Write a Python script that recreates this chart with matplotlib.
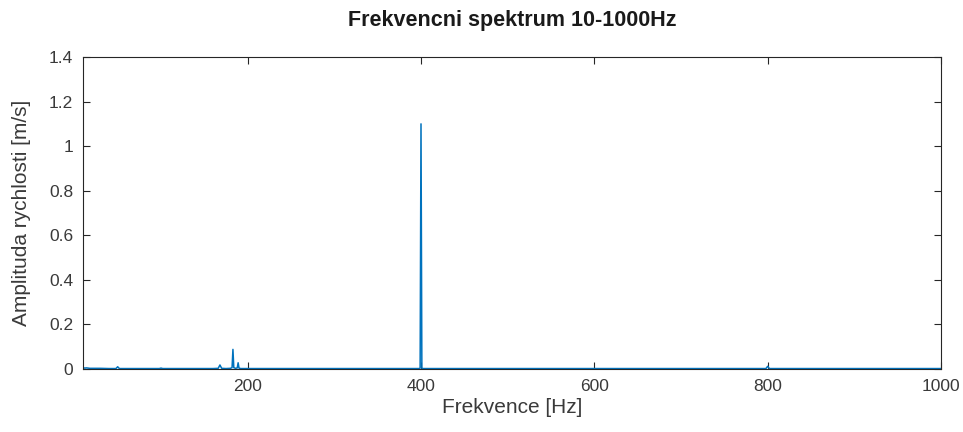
import matplotlib
matplotlib.use("Agg")
import matplotlib.pyplot as plt

# Spectrum samples (frequency in Hz, amplitude in m/s)
freq = [10, 12, 14, 16, 18, 20, 30, 40, 48, 50, 52, 60, 80, 98, 100, 102, 120, 140,
        160, 166, 168, 170, 175, 180, 182, 183, 184, 186, 188, 189, 190, 192, 200,
        250, 300, 350, 398, 399, 400, 401, 402, 450, 500, 550, 600, 650, 700, 750,
        798, 800, 802, 850, 900, 950, 1000]
amp = [0.006, 0.004, 0.005, 0.004, 0.003, 0.003, 0.003, 0.002, 0.002, 0.010, 0.002, 0.002,
       0.002, 0.002, 0.004, 0.002, 0.002, 0.002,
       0.002, 0.003, 0.018, 0.003, 0.002, 0.003, 0.006, 0.088, 0.006, 0.003, 0.005, 0.028, 0.004, 0.002, 0.002,
       0.002, 0.002, 0.002, 0.002, 0.004, 1.10, 0.004, 0.002, 0.002, 0.002, 0.002, 0.002, 0.002, 0.002, 0.002,
       0.002, 0.012, 0.002, 0.002, 0.002, 0.002, 0.002]

xticks = [200, 400, 600, 800, 1000]
yticks = [0, 0.2, 0.4, 0.6, 0.8, 1.0, 1.2, 1.4]
ytick_labels = ["0", "0.2", "0.4", "0.6", "0.8", "1", "1.2", "1.4"]

plt.rcParams['font.family'] = ['Liberation Sans', 'DejaVu Sans']

fig = plt.figure(figsize=(9.63, 4.32), dpi=100)
ax = fig.add_axes([83/963, 63/432, (941-83)/963, (369-57)/432])
ax.plot(freq, amp, color='#0072BD', linewidth=1.1)
ax.set_xlim(10, 1000)
ax.set_ylim(0, 1.4)
ax.set_xticks(xticks)
ax.set_xticklabels([str(t) for t in xticks])
ax.set_yticks(yticks)
ax.set_yticklabels(ytick_labels)
ax.tick_params(direction='in', top=True, right=True, length=5, width=0.8,
               colors='#262626', labelsize=12.5, labelcolor='#3a3a3a', pad=7)
for s in ax.spines.values():
    s.set_color('#262626')
    s.set_linewidth(0.8)
ax.set_title("Frekvencni spektrum 10-1000Hz", fontsize=15.5, fontweight='bold',
             color='#1a1a1a', pad=22)
ax.set_xlabel("Frekvence [Hz]", fontsize=15, color='#3a3a3a', labelpad=3)
ax.set_ylabel("Amplituda rychlosti [m/s]", fontsize=15, color='#3a3a3a', labelpad=13)

fig.savefig("out.png", dpi=100)
